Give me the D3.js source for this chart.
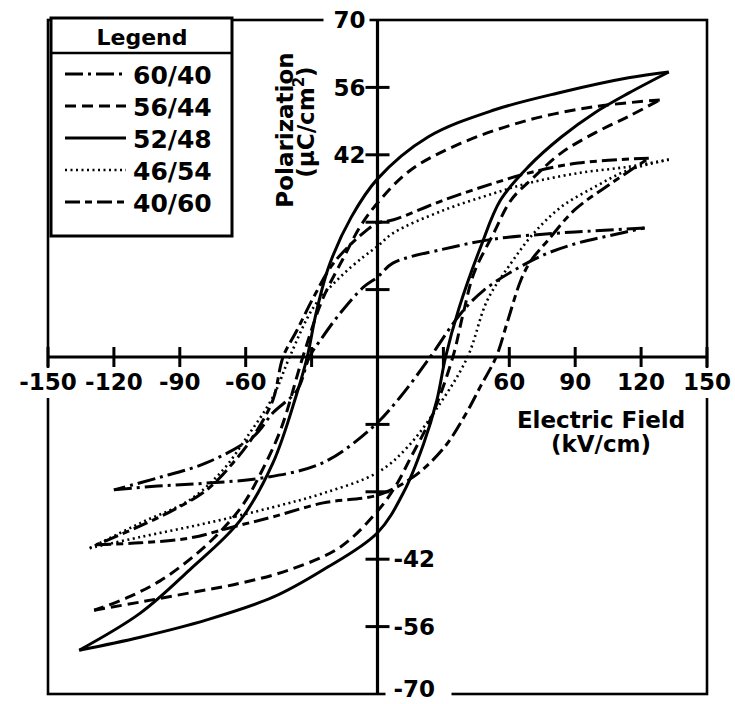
<!DOCTYPE html>
<html>
<head>
<meta charset="utf-8">
<script src="https://cdn.jsdelivr.net/npm/d3@7"></script>
<style>
  html, body { margin: 0; padding: 0; background: #fff; }
  svg { display: block; }
  text { font-family: "DejaVu Sans", "Liberation Sans", sans-serif; font-weight: bold; fill: #000; }
</style>
</head>
<body>
<svg id="chart" width="735" height="704"></svg>
<script>
// PZT compositions (Zr/Ti) shown in the legend
const compositions = ["60/40", "56/44", "52/48", "46/54", "40/60"];

// Axis ticks and labels
const fieldTicks = [-150, -120, -90, -60, -30, 30, 60, 90, 120, 150];
const fieldLabels = [-150, -120, -90, -60, 60, 90, 120, 150];
const polTicks = [56, 42, 28, 14, -14, -28, -42, -56];
const polLabelsLeft = [70, 56, 42];
const polLabelsRight = [-42, -56, -70];

// Hysteresis loops: [field kV/cm, polarization µC/cm²]
// "Upper" runs from the positive tip down to the negative tip, "lower" goes back up.
const pzt6040Upper = [[121.6, 26.8], [99, 26.2], [78, 25.6], [53, 24.5], [30, 22.4], [7, 19.5], [0, 16.6],
  [-6.4, 14.5], [-17, 9.1], [-26, 3.5], [-31, 0], [-36.6, -6.9], [-47.6, -11.6], [-56.7, -16.6],
  [-78, -22], [-100, -25.1], [-120, -27.6]];
const pzt6040Lower = [[-120, -27.6], [-100, -26.8], [-78, -26.2], [-52, -25.1], [-25, -22], [-2, -14.5],
  [10, -8.5], [24, 0], [38, 9.1], [48.5, 13.9], [64, 18.5], [77.7, 21.6], [91.4, 23.7], [106.5, 25.3], [121.6, 26.8]];

const pzt5644Upper = [[128.5, 53.4], [99, 52], [68.6, 49.2], [38, 44.4], [15, 38.8], [0, 32], [-8, 27],
  [-15, 21], [-25, 12], [-34, 0], [-44, -15], [-53, -24], [-61, -30.5], [-71, -36], [-84, -41.5],
  [-99, -46.5], [-114, -50], [-129, -52.6]];
const pzt5644Lower = [[-129, -52.6], [-108, -50.9], [-85.5, -49], [-62.6, -47], [-40, -44.2], [-17, -39.5],
  [0, -32], [8, -27], [15, -21], [25, -12], [34.3, 0], [39, 9], [43.9, 17.4], [53, 25.8], [60.8, 32.6],
  [71.3, 37.4], [83.7, 42.4], [98.8, 46.5], [114, 49.9], [128.5, 53.4]];

const pzt5248Upper = [[132.6, 59.2], [114.3, 58], [83.7, 55], [53, 51.3], [23, 45.7], [0, 37], [-12, 29],
  [-22, 19], [-28, 9], [-32, 0], [-37, -8], [-47.6, -22], [-62.6, -34], [-85.5, -44.2], [-108, -53.2],
  [-135.8, -60.9]];
const pzt5248Lower = [[-135.8, -60.9], [-108, -58.2], [-77.7, -54.6], [-47.6, -49.9], [-24.7, -44.2],
  [0, -36.5], [12, -28], [21, -18], [27, -9], [31, 0], [37, 10], [47, 22.9], [56, 32.6], [68.6, 39.5],
  [83.7, 45.7], [98.8, 50.7], [114.3, 54.8], [132.6, 59.2]];

const pzt4654Upper = [[132.6, 41], [114, 39.5], [91.4, 38.2], [68.6, 36.1], [53, 34], [30.2, 30.5],
  [7.3, 25.8], [0, 23], [-6.4, 20.8], [-17, 16.6], [-29, 10.4], [-40, 0], [-47.6, -8.3], [-59.4, -16.6],
  [-70.4, -23.5], [-85.5, -29.7], [-108, -34.5], [-131, -39.7]];
const pzt4654Lower = [[-131, -39.7], [-108, -37.4], [-77.7, -34.5], [-47.6, -31.2], [-24.7, -28.3],
  [0, -24], [13.7, -18.7], [28, -10], [41, 0], [50, 11.8], [60.8, 19.5], [71.3, 25.8], [83.7, 31.2],
  [98.8, 35.3], [114, 38.8], [132.6, 41]];

const pzt4060Upper = [[123.5, 41.3], [91.4, 40.3], [68.6, 38.2], [53, 36.1], [30.2, 32.6], [7.3, 28.5],
  [0, 27.8], [-6.4, 25.8], [-20, 19.5], [-29, 12.5], [-36.6, 5.6], [-43, 0], [-47.6, -8.9], [-56.7, -16.6],
  [-65.8, -22], [-77.7, -27.6], [-93, -31.8], [-110, -35.5], [-128, -39]];
const pzt4060Lower = [[-128, -39], [-108, -38.6], [-85.5, -37.6], [-65.8, -35.3], [-47.6, -33.2],
  [-24.7, -30.3], [0, -28.7], [16, -25], [30, -19], [40, -12], [47, -6], [54, 0], [59.4, 7.7], [65.3, 16],
  [70, 20.1], [77.7, 24.3], [89.6, 30.5], [106.5, 36.1], [123.5, 41.3]];

const loops = [
  { name: compositions[0], upper: pzt6040Upper, lower: pzt6040Lower },
  { name: compositions[1], upper: pzt5644Upper, lower: pzt5644Lower },
  { name: compositions[2], upper: pzt5248Upper, lower: pzt5248Lower },
  { name: compositions[3], upper: pzt4654Upper, lower: pzt4654Lower },
  { name: compositions[4], upper: pzt4060Upper, lower: pzt4060Lower }
];

// Line style for each composition
const lineStyle = {
  "60/40": { dash: "18,5,3,5", width: 3 },
  "56/44": { dash: "11,6", width: 3 },
  "52/48": { dash: null, width: 3 },
  "46/54": { dash: "2,3.5", width: 2.6 },
  "40/60": { dash: "15,5,7,5", width: 3 }
};

const svg = d3.select("#chart");
const plotLeft = 48, plotRight = 707, plotTop = 20, plotBottom = 694;

const x = d3.scaleLinear().domain([-150, 150]).range([plotLeft, plotRight]);
const y = d3.scaleLinear().domain([-70, 70]).range([plotBottom, plotTop]);
const x0 = x(0), y0 = y(0);

// Outer frame
svg.append("rect")
  .attr("x", plotLeft).attr("y", plotTop)
  .attr("width", plotRight - plotLeft).attr("height", plotBottom - plotTop)
  .attr("fill", "none").attr("stroke", "#000").attr("stroke-width", 2.6);

// Loops
const line = d3.line()
  .x(d => x(d[0])).y(d => y(d[1]))
  .curve(d3.curveCatmullRom.alpha(0.5));

const loopG = svg.append("g");
loops.forEach(l => {
  const st = lineStyle[l.name];
  [l.upper, l.lower].forEach(branch => {
    loopG.append("path")
      .attr("d", line(branch))
      .attr("fill", "none")
      .attr("stroke", "#000")
      .attr("stroke-width", st.width)
      .attr("stroke-dasharray", st.dash)
      .attr("stroke-linejoin", "round");
  });
});

// Axes through the origin
svg.append("line").attr("x1", plotLeft).attr("x2", plotRight).attr("y1", y0).attr("y2", y0)
  .attr("stroke", "#000").attr("stroke-width", 3.2);
svg.append("line").attr("x1", x0).attr("x2", x0).attr("y1", plotTop).attr("y2", plotBottom)
  .attr("stroke", "#000").attr("stroke-width", 3.2);

svg.append("g").selectAll("line").data(fieldTicks).join("line")
  .attr("x1", d => x(d)).attr("x2", d => x(d))
  .attr("y1", y0 - 10).attr("y2", y0 + 10)
  .attr("stroke", "#000").attr("stroke-width", 3);

svg.append("g").selectAll("line").data(polTicks).join("line")
  .attr("x1", x0 - 12).attr("x2", x0 + 12)
  .attr("y1", d => y(d)).attr("y2", d => y(d))
  .attr("stroke", "#000").attr("stroke-width", 3);

const fmt = v => String(v);

// Field tick labels
const fl = svg.append("g").selectAll("g").data(fieldLabels).join("g")
  .attr("transform", d => `translate(${x(d)},390)`);
fl.filter(d => Math.abs(d) === 150).append("rect")
  .attr("x", -27).attr("y", -22).attr("width", 54).attr("height", 30).attr("fill", "#fff");
fl.append("text").attr("text-anchor", "middle").attr("font-size", 23).text(fmt);

// Polarization tick labels
const pl = svg.append("g").selectAll("g").data(polLabelsLeft).join("g")
  .attr("transform", d => `translate(${x0 - 12},${y(d)})`);
pl.filter(d => d === 70).append("rect")
  .attr("x", -42).attr("y", -13).attr("width", 46).attr("height", 26).attr("fill", "#fff");
pl.append("text").attr("text-anchor", "end").attr("dy", "0.36em").attr("font-size", 23).text(fmt);

const pr = svg.append("g").selectAll("g").data(polLabelsRight).join("g")
  .attr("transform", d => `translate(${x0 + 16},${d === -70 ? y(d) - 5 : y(d)})`);
pr.filter(d => d === -70).append("rect")
  .attr("x", -8).attr("y", -8).attr("width", 66).attr("height", 26).attr("fill", "#fff");
pr.append("text").attr("text-anchor", "start").attr("dy", "0.36em").attr("font-size", 23).text(fmt);

// Axis titles
svg.append("text").attr("x", 601).attr("y", 428).attr("text-anchor", "middle")
  .attr("font-size", 23).text("Electric Field");
svg.append("text").attr("x", 601).attr("y", 452).attr("text-anchor", "middle")
  .attr("font-size", 23).text("(kV/cm)");

const yTitle = svg.append("g").attr("transform", "translate(293,130) rotate(-90)");
yTitle.append("text").attr("text-anchor", "middle").attr("font-size", 23).text("Polarization");
const unit = yTitle.append("text").attr("x", 8).attr("y", 21).attr("text-anchor", "middle").attr("font-size", 23);
unit.append("tspan").text("(µC/cm");
unit.append("tspan").attr("font-size", 15).attr("dy", -10).text("2");
unit.append("tspan").attr("dy", 10).text(")");

// Legend
const lg = svg.append("g");
lg.append("rect").attr("x", 51).attr("y", 18).attr("width", 181).attr("height", 218)
  .attr("fill", "#fff").attr("stroke", "#000").attr("stroke-width", 3);
lg.append("line").attr("x1", 51).attr("x2", 232).attr("y1", 53).attr("y2", 53)
  .attr("stroke", "#000").attr("stroke-width", 2.5);
lg.append("text").attr("x", 142).attr("y", 45).attr("text-anchor", "middle")
  .attr("font-size", 22).text("Legend");

const rowY = d3.scalePoint().domain(compositions).range([74, 202]);
const rows = lg.selectAll("g.row").data(compositions).join("g").attr("class", "row")
  .attr("transform", d => `translate(0,${rowY(d)})`);
rows.append("line").attr("x1", 65).attr("x2", 126).attr("y1", 0).attr("y2", 0)
  .attr("stroke", "#000")
  .attr("stroke-width", d => lineStyle[d].width)
  .attr("stroke-dasharray", d => lineStyle[d].dash);
rows.append("text").attr("x", 133).attr("y", 10).attr("font-size", 25).text(d => d);
</script>
</body>
</html>
